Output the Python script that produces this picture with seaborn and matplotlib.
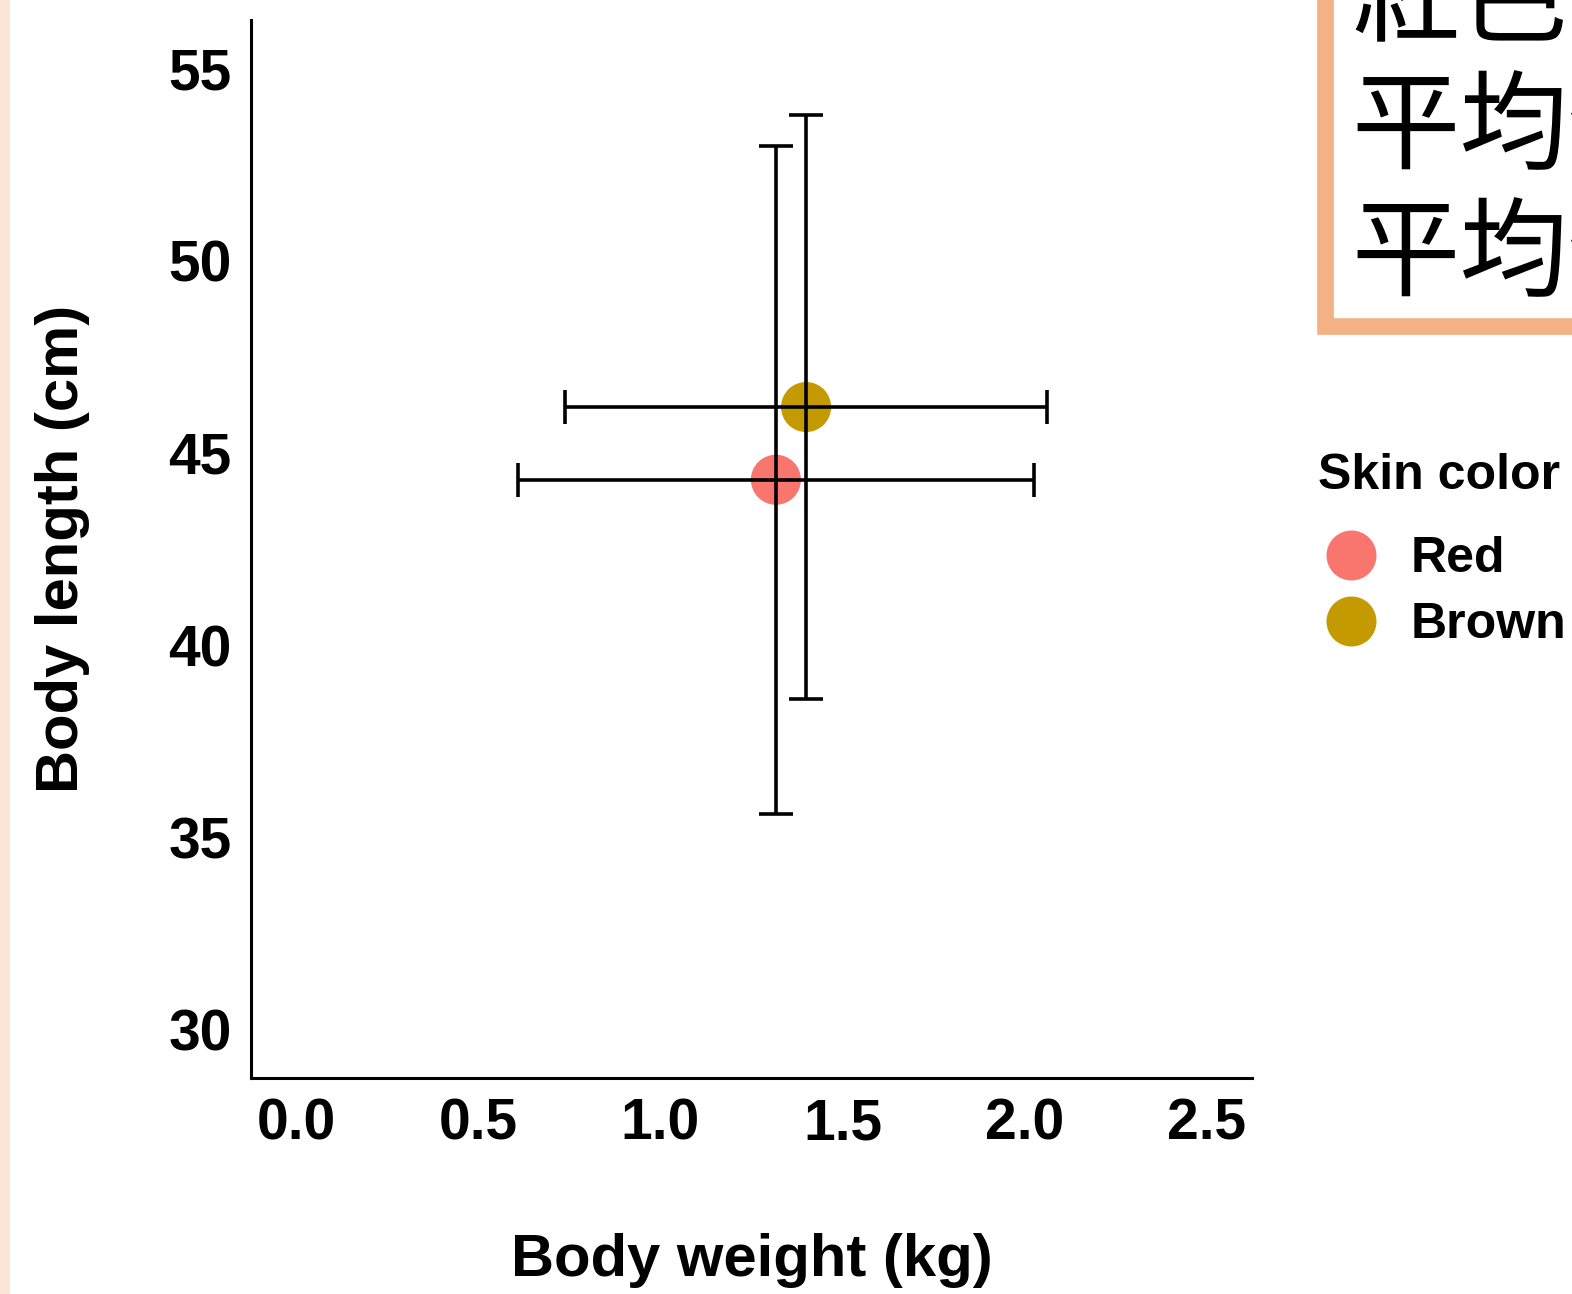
import pandas as pd
import matplotlib.pyplot as plt
import seaborn as sns
from matplotlib.lines import Line2D
from matplotlib.patches import Rectangle

# 数値は図から読み取り
skin = ['Red', 'Brown']
weight_mean = [1.317, 1.400]
weight_sd = [0.708, 0.663]
length_mean = [44.30, 46.19]
length_sd = [8.68, 7.58]
palette = {'Red': '#F8766D', 'Brown': '#C49A00'}
x_ticks = [0.0, 0.5, 1.0, 1.5, 2.0, 2.5]
y_ticks = [30, 35, 40, 45, 50, 55]
note_lines = ['紅色型の', '平均体重', '平均体長']

df = pd.DataFrame({'skin': skin, 'weight': weight_mean, 'w_sd': weight_sd,
                   'length': length_mean, 'l_sd': length_sd})

sns.set_style('white')
plt.rcParams['font.family'] = ['Liberation Sans', 'DejaVu Sans']
plt.rcParams['text.color'] = 'black'
plt.rcParams['axes.labelcolor'] = 'black'
plt.rcParams['xtick.color'] = 'black'
plt.rcParams['ytick.color'] = 'black'

fig = plt.figure(figsize=(15.72, 12.94), dpi=100)
ax = fig.add_axes([251 / 1572, 1 - 1078 / 1294, (1252 - 251) / 1572, (1078 - 20) / 1294])

sns.scatterplot(data=df, x='weight', y='length', hue='skin', palette=palette,
                s=1300, linewidth=0, ax=ax, legend=False, zorder=2)
ax.errorbar(df['weight'], df['length'], xerr=df['w_sd'], yerr=df['l_sd'],
            fmt='none', ecolor='black', elinewidth=2.6, capsize=12, capthick=2.6, zorder=3)

ax.set_xlim(-0.125, 2.625)
ax.set_ylim(28.75, 56.25)
ax.set_xticks(x_ticks)
ax.set_xticklabels([f'{v:.1f}' for v in x_ticks])
ax.set_yticks(y_ticks)
for s in ['top', 'right']:
    ax.spines[s].set_visible(False)
for s in ['left', 'bottom']:
    ax.spines[s].set_linewidth(2.2)
    ax.spines[s].set_color('black')
ax.tick_params(axis='both', length=7, width=2.2, color='#333333', labelsize=41, pad=7,
               labelcolor='black')
for lab in ax.get_xticklabels() + ax.get_yticklabels():
    lab.set_fontweight('bold')
ax.set_xlabel('Body weight (kg)', fontsize=43, fontweight='bold', labelpad=59)
ax.set_ylabel('Body length (cm)', fontsize=43, fontweight='bold', labelpad=56)

# 凡例
fig.text(1318 / 1572, 1 - 476 / 1294, 'Skin color', fontsize=36, fontweight='bold',
         ha='left', va='center')
handles = [Line2D([], [], marker='o', linestyle='', markersize=36,
                  markerfacecolor=palette[k], markeredgewidth=0) for k in skin]
leg = fig.legend(handles, skin, loc='upper left', bbox_to_anchor=(1326 / 1572, 1 - 536 / 1294),
                 frameon=False, fontsize=36, handlelength=1.0,
                 handletextpad=0.7, labelspacing=0.4, borderpad=0, borderaxespad=0)
for t in leg.get_texts():
    t.set_fontweight('bold')
    t.set_color('black')

# 左端の帯とテキストボックス
fig.patches.append(Rectangle((0, 0), 10 / 1572, 1, transform=fig.transFigure,
                             facecolor='#FBE5D6', edgecolor='none', zorder=0))
fig.patches.append(Rectangle((1324.5 / 1572, 1 - 326 / 1294), 0.5, 0.5, transform=fig.transFigure,
                             facecolor='white', edgecolor='#F4B183', linewidth=12, zorder=1))
for i, line in enumerate(note_lines):
    fig.text(1351 / 1572, 1 - (3 + 127 * i) / 1294, line, fontsize=78, va='center', ha='left',
             family=['Noto Sans CJK JP', 'DejaVu Sans'], color='black')

fig.savefig('out.png', dpi=100)
